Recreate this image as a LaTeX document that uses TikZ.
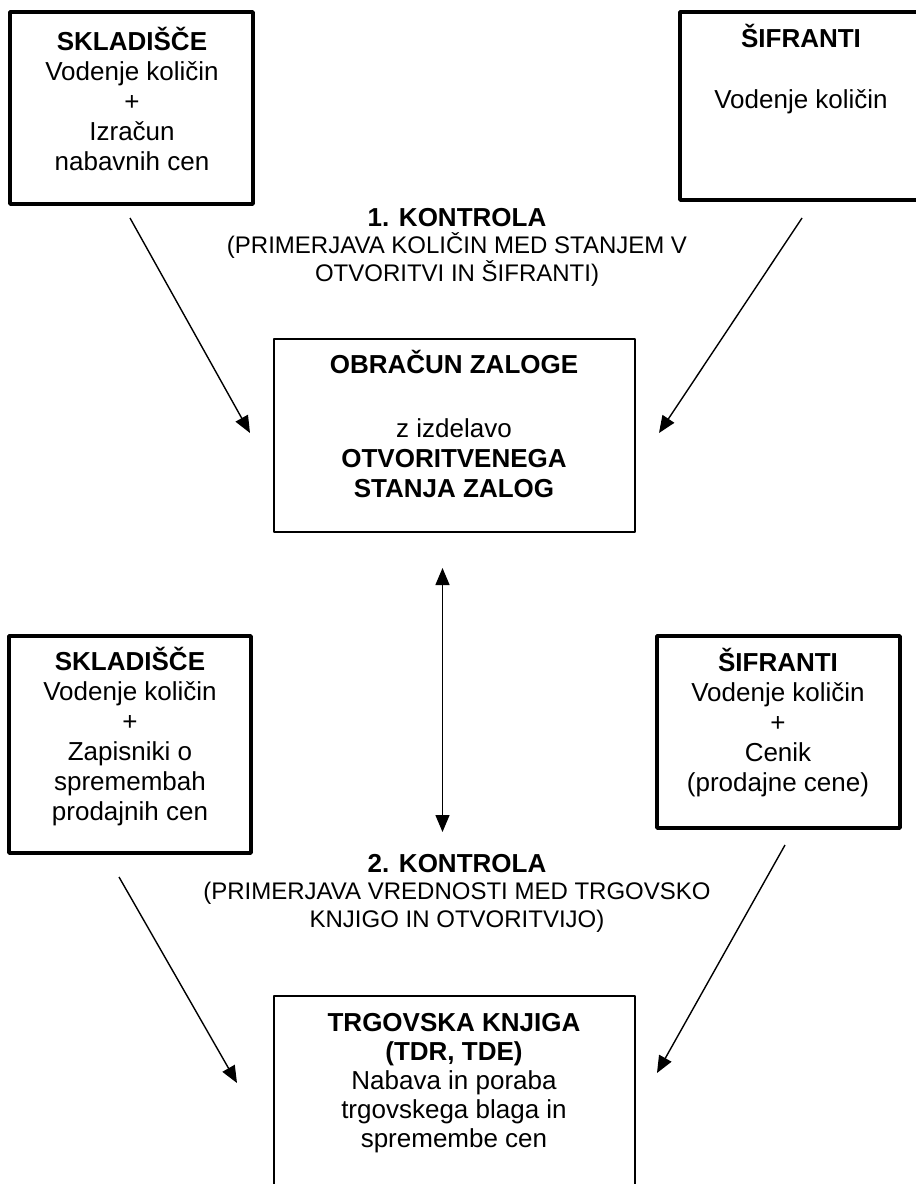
\documentclass[tikz,border=0pt]{standalone}
\usepackage{fontspec}
\setmainfont{Liberation Sans}
\usetikzlibrary{arrows.meta}

\tikzset{
  heavybox/.style={draw, line width=3.5pt, inner sep=0pt},
  lightbox/.style={draw, line width=1.5pt, inner sep=0pt},
  boxtext/.style={align=center, inner sep=0pt, anchor=north, font=\fontsize{26}{30}\selectfont},
  ctrltext/.style={align=center, inner sep=0pt, anchor=north, font=\fontsize{24}{27.5}\selectfont},
  flow/.style={-{Triangle[length=17pt,width=14pt]}, line width=1.4pt},
  twoway/.style={{Triangle[length=17pt,width=14pt]}-{Triangle[length=17pt,width=14pt]}, line width=1.4pt},
}

\begin{document}
\begin{tikzpicture}[x=1pt, y=-1pt, line join=round]
  \useasboundingbox (0,0) rectangle (916,1184);
  \clip (0,0) rectangle (916,1184);

  % boxes
  \node[heavybox, minimum width=243pt, minimum height=192pt] (skl1) at (131.5,108) {};
  \node[heavybox, minimum width=242pt, minimum height=188pt] (sif1) at (801,106) {};
  \node[lightbox, minimum width=361pt, minimum height=193pt] (obr) at (454.5,435.5) {};
  \node[heavybox, minimum width=242pt, minimum height=217pt] (skl2) at (130,744.5) {};
  \node[heavybox, minimum width=243pt, minimum height=192pt] (sif2) at (778.5,732) {};
  \node[lightbox, minimum width=361pt, minimum height=230pt] (trg) at (454.5,1111) {};

  % texts
  \node[boxtext] (skl1txt) at (132,26.5) {\textbf{SKLADIŠČE}\\Vodenje količin\\+\\Izračun\\nabavnih cen};
  \node[boxtext] (sif1txt) at (801,24) {\textbf{ŠIFRANTI}\\[31pt]Vodenje količin};
  \node[boxtext] (obrtxt) at (454,350) {\textbf{OBRAČUN ZALOGE}\\[34pt]z izdelavo\\\textbf{OTVORITVENEGA}\\\textbf{STANJA ZALOG}};
  \node[boxtext] (skl2txt) at (130,646.5) {\textbf{SKLADIŠČE}\\Vodenje količin\\+\\Zapisniki o\\spremembah\\prodajnih cen};
  \node[boxtext] (sif2txt) at (778,647.5) {\textbf{ŠIFRANTI}\\Vodenje količin\\+\\Cenik\\(prodajne cene)};
  \node[boxtext, font=\fontsize{26}{29}\selectfont] (trgtxt) at (454,1013) {\textbf{TRGOVSKA KNJIGA}\\\textbf{(TDR, TDE)}\\Nabava in poraba\\trgovskega blaga in\\spremembe cen};

  \node[ctrltext] (kon1) at (457,208) {{\fontsize{26}{30}\selectfont\bfseries 1. KONTROLA}\\(PRIMERJAVA KOLIČIN MED STANJEM V\\OTVORITVI IN ŠIFRANTI)};
  \node[ctrltext] (kon2) at (457,854) {{\fontsize{26}{30}\selectfont\bfseries 2. KONTROLA}\\(PRIMERJAVA VREDNOSTI MED TRGOVSKO\\KNJIGO IN OTVORITVIJO)};

  % arrow ends
  \coordinate (a1s) at (130,218);
  \coordinate (a1e) at (250,433);
  \coordinate (a2s) at (802,218);
  \coordinate (a2e) at (659,433);
  \coordinate (v1) at (442.5,568);
  \coordinate (v2) at (442.5,832);
  \coordinate (a3s) at (119,877);
  \coordinate (a3e) at (237,1083);
  \coordinate (a4s) at (785,845);
  \coordinate (a4e) at (657,1073);

  \draw[flow] (a1s) -- (a1e);
  \draw[flow] (a2s) -- (a2e);
  \draw[twoway] (v1) -- (v2);
  \draw[flow] (a3s) -- (a3e);
  \draw[flow] (a4s) -- (a4e);
\end{tikzpicture}
\end{document}
